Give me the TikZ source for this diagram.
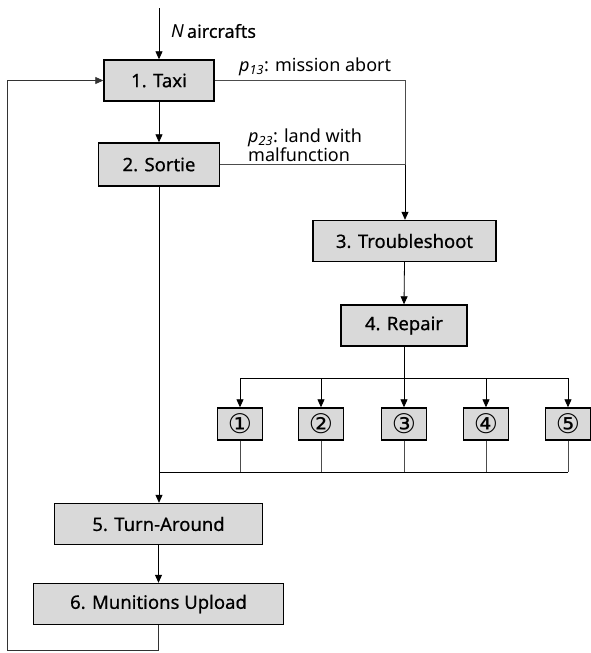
\documentclass[tikz,border=0pt]{standalone}
\usepackage{fontspec}
\setmainfont{Noto Sans}
\newfontfamily\boxfont[FakeBold=0.5]{Noto Sans}
\newfontfamily\symfont{DejaVu Sans}
\usetikzlibrary{arrows.meta,calc}
\begin{document}
\begin{tikzpicture}[x=1pt,y=-1pt,
  box/.style={draw=black,line width=1.4pt,fill=black!15,minimum height=41pt,inner sep=0pt,font=\boxfont\fontsize{18.5}{20}\selectfont},
  sbox/.style={draw=black,line width=1.4pt,fill=black!15,minimum width=45pt,minimum height=32pt,inner sep=0pt,font=\symfont\fontsize{27}{28}\selectfont},
  arr/.style={-{Triangle[length=8pt,width=7pt]},line width=0.8pt},
  ln/.style={line width=0.8pt,draw=black!70},
  lbl/.style={font=\fontsize{18}{19}\selectfont,inner sep=0pt,align=left}]
\useasboundingbox (0,0) rectangle (590,653);
\node[box,minimum width=110pt] (t) at (159,80.5) {1. Taxi};
\node[box,minimum width=121pt,minimum height=43pt] (s) at (159,164.5) {2. Sortie};
\node[box,minimum width=183pt] (tr) at (404.5,241) {3. Troubleshoot};
\node[box,minimum width=126pt] (r) at (404,325.5) {4. Repair};
\node[sbox] (b1) at (240,424) {①};
\node[sbox] (b2) at (321,424) {②};
\node[sbox] (b3) at (404,424) {③};
\node[sbox] (b4) at (486,424) {④};
\node[sbox] (b5) at (568,424) {⑤};
\node[box,minimum width=208pt] (ta) at (158.5,524) {5. Turn-Around};
\node[box,minimum width=250pt] (m) at (158.5,604) {6. Munitions Upload};
% labels
\node[lbl,anchor=west] (na) at (171,31) {\textit{N}\,\boxfont aircrafts};
\node[lbl,anchor=west] (p13) at (239,67) {\textit{p}\textsubscript{\textit{13}}: mission abort};
\node[lbl,anchor=west] (p23) at (248,145) {\textit{p}\textsubscript{\textit{23}}: land with\\malfunction};
% coordinates
\coordinate (top) at (159,8);
\coordinate (c1) at (405,80.5);
\coordinate (c2) at (405,164.5);
\coordinate (hl) at (240,378);
\coordinate (hr) at (568,378);
\coordinate (jl) at (159,472);
\coordinate (jr) at (568,472);
\coordinate (l2) at (7,650);
\coordinate (l3) at (7,80.5);
% connectors
\draw[arr] (top) -- (t.north);
\draw[arr] (t.south) -- (t.south |- s.north);
\draw[ln] (t.east) -- (c1) -- (c2);
\draw[ln] (s.east) -- (c2);
\draw[arr] (c2) -- (c2 |- tr.north);
\draw[arr] (tr.south) -- (r.north);
\draw[line width=0.8pt] (r.south) -- (r.south |- hl);
\draw[line width=0.8pt] (hl) -- (hr);
\foreach \b in {b1,b2,b3,b4,b5}{
  \draw[arr] (\b.north |- hl) -- (\b.north);
  \draw[ln] (\b.south) -- (\b.south |- jl);
}
\draw[line width=0.8pt] (jl) -- (jr);
\draw[arr] (s.south) -- (s.south |- ta.north);
\draw[arr] (ta.south) -- (m.north);
\draw[line width=0.8pt,draw=black!80,-{Triangle[length=8pt,width=7pt]}] (m.south) -- (m.south |- l2) -- (l2) -- (l3) -- (t.west);
\end{tikzpicture}
\end{document}
